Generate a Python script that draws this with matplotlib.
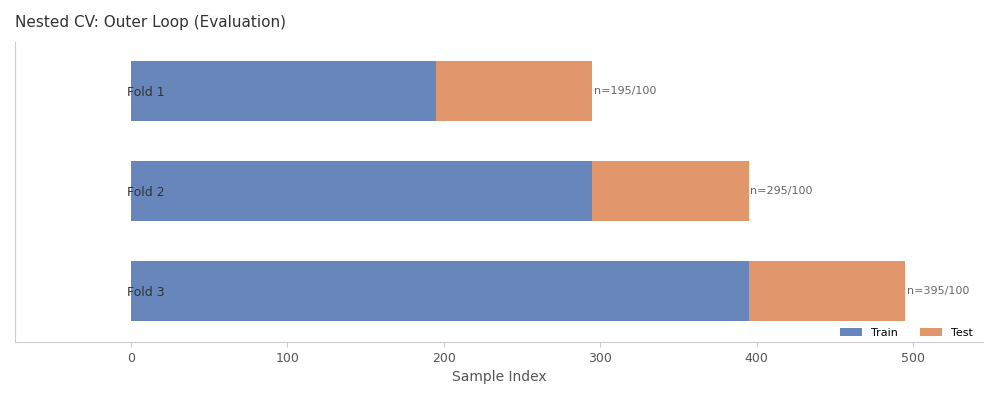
import matplotlib
matplotlib.use("Agg")
import matplotlib.pyplot as plt

folds = ["Fold 1", "Fold 2", "Fold 3"]
train = [195, 295, 395]
test = [100, 100, 100]

fig = plt.figure(figsize=(10, 4), dpi=100)
ax = fig.add_axes([0.015, 0.145, 0.968, 0.75])
y = list(range(len(folds)))
ax.barh(y, train, height=0.6, color="#6787bc", label="Train")
ax.barh(y, test, left=train, height=0.6, color="#e1966b", label="Test")
for yi, tr, te in zip(y, train, test):
    ax.text(tr + te + 1, yi, f"n={tr}/{te}", va="center", ha="left", fontsize=8, color="#666666")
ax.set_yticks(y)
ax.set_yticklabels(folds)
ax.set_ylim(2.51, -0.49)
ax.set_xlim(-74, 544.7)
ax.set_xticks([0, 100, 200, 300, 400, 500])
ax.tick_params(axis="y", length=0, pad=-108, labelsize=9, labelcolor="#333333")
ax.tick_params(axis="x", colors="#cccccc", labelcolor="#555555", labelsize=9)
for s in ["top", "right"]:
    ax.spines[s].set_visible(False)
for s in ["left", "bottom"]:
    ax.spines[s].set_color("#cccccc")
ax.set_xlabel("Sample Index", color="#555555", fontsize=10)
ax.legend(loc="lower right", frameon=False, fontsize=8, ncol=2, bbox_to_anchor=(1.0, -0.02))
fig.text(0.015, 0.945, "Nested CV: Outer Loop (Evaluation)", fontsize=11, color="#333333", va="center")
fig.savefig("out.png")
